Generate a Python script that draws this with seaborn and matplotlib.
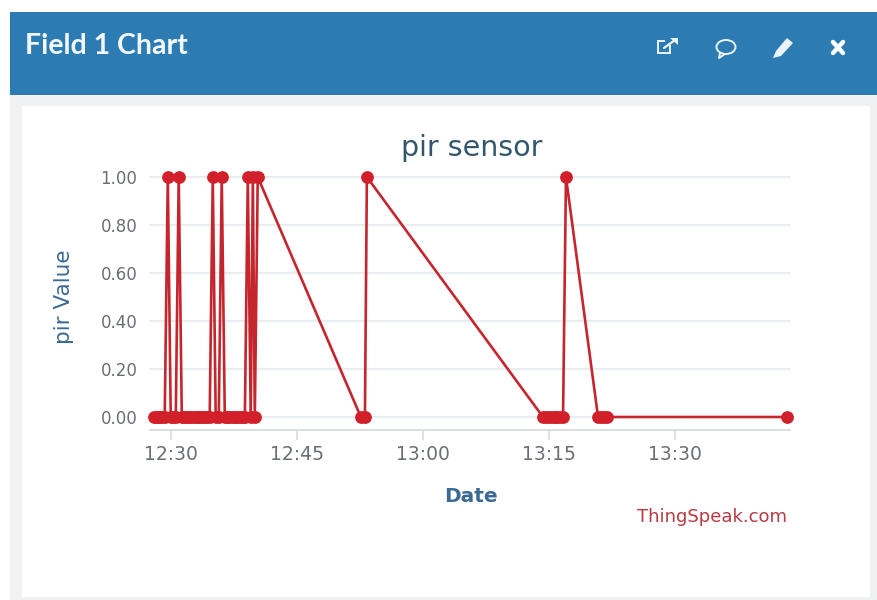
import matplotlib
matplotlib.use("Agg")
import matplotlib.pyplot as plt
import matplotlib.dates as mdates
from matplotlib.patches import Rectangle, Ellipse, Polygon
from matplotlib.lines import Line2D
import pandas as pd
import seaborn as sns

times = ["12:28:00","12:28:15","12:28:30","12:28:45","12:29:00","12:29:17","12:29:39","12:30:00","12:30:18","12:30:36",
         "12:30:57","12:31:19","12:31:35","12:31:50","12:32:05","12:32:20","12:32:35","12:32:50","12:33:05","12:33:20",
         "12:33:35","12:33:50","12:34:05","12:34:20",
         "12:34:38","12:35:00","12:35:21","12:35:43","12:36:04","12:36:26","12:36:42","12:36:58","12:37:14","12:37:30",
         "12:37:46","12:38:02","12:38:18","12:38:34","12:38:49","12:39:10","12:39:31","12:39:46","12:40:00","12:40:21",
         "12:52:37","12:53:06","12:53:20","13:14:17","13:14:40","13:15:00","13:15:20","13:15:40","13:16:00","13:16:20","13:16:40",
         "13:17:01","13:20:50","13:21:10","13:21:30","13:21:55","13:43:20"]
pir_values = [0,0,0,0,0,0,1,0,0,0,
              1,0,0,0,0,0,0,0,0,0,
              0,0,0,0,
              0,1,0,0,1,0,0,0,0,0,
              0,0,0,0,0,1,0,1,0,1,
              0,0,1,0,0,0,0,0,0,0,0,
              1,0,0,0,0,0]
y_ticks = [0.0, 0.2, 0.4, 0.6, 0.8, 1.0]
title = "pir sensor"
panel_title = "Field 1 Chart"
x_label = "Date"
y_label = "pir Value"
credit = "ThingSpeak.com"

W, H = 877, 600
sns.set_theme(style="white")
plt.rcParams["font.family"] = ["DejaVu Sans"]
fig = plt.figure(figsize=(W / 100, H / 100), dpi=100, facecolor="white")

# page chrome, in pixel coordinates
bg = fig.add_axes([0, 0, 1, 1], zorder=0)
bg.set_xlim(0, W); bg.set_ylim(H, 0); bg.axis("off")
bg.add_patch(Rectangle((10, 12), W - 10, H - 12, fc="#f0f1f2", ec="none"))
bg.add_patch(Rectangle((22, 106), 870 - 22, 597 - 106, fc="white", ec="none"))
bg.add_patch(Rectangle((10, 12), W - 10, 83, fc="#2d7bb3", ec="none"))
bg.text(25, 46, panel_title, color="#f2f8fb", fontsize=20.5, fontweight="bold",
        family="Lato", va="center", ha="left")
ic = "#eaf3f8"
# external link icon
bg.add_patch(Rectangle((658, 41), 12, 12, fc="none", ec=ic, lw=1.4))
bg.add_patch(Rectangle((665, 37), 9, 8, fc="#2d7bb3", ec="none"))
bg.add_line(Line2D([664, 675], [48, 40], color=ic, lw=1.6))
bg.add_patch(Polygon([[670, 38], [678, 38], [678, 45]], fc=ic, ec="none"))
# comment icon
bg.add_patch(Ellipse((726, 47), 19, 14, fc="none", ec=ic, lw=1.4))
bg.add_line(Line2D([720, 719, 725], [53, 58, 54], color=ic, lw=1.4))
# pencil icon
bg.add_patch(Polygon([[776, 51], [787, 38], [793, 43], [781, 56], [773, 58]], fc=ic, ec="none"))
# close icon
bg.add_line(Line2D([833, 843], [42, 53], color="white", lw=3.2))
bg.add_line(Line2D([843, 833], [42, 53], color="white", lw=3.2))

# chart
x0, x1, y_top, y_bot = 150, 790, 177, 430
ax = fig.add_axes([x0 / W, 1 - y_bot / H, (x1 - x0) / W, (y_bot - y_top) / H], zorder=2)
ax.patch.set_alpha(0)
df = pd.DataFrame({"t": pd.to_datetime(["2020-01-01 " + t for t in times]), "v": pir_values})
sns.lineplot(data=df, x="t", y="v", ax=ax, sort=False, estimator=None, errorbar=None,
             color="#c5262d", lw=1.9, marker="o", markersize=9.2,
             markerfacecolor="#d2202a", markeredgecolor="#d2202a", markeredgewidth=0,
             clip_on=False, zorder=5)
ax.set_xlim(pd.Timestamp("2020-01-01 12:27:32"), pd.Timestamp("2020-01-01 13:43:40"))
ax.set_ylim(-13 / 240, 1.0)
ax.set_yticks(y_ticks, [f"{v:.2f}" for v in y_ticks])
ax.xaxis.set_major_locator(mdates.MinuteLocator(byminute=[0, 15, 30, 45]))
ax.xaxis.set_major_formatter(mdates.DateFormatter("%H:%M"))
ax.grid(axis="y", color="#e9edef", lw=1.6, clip_on=False)
ax.set_axisbelow(True)
for s in ["top", "left", "right"]:
    ax.spines[s].set_visible(False)
ax.spines["bottom"].set_color("#d8dcdf")
ax.spines["bottom"].set_linewidth(1.3)
ax.tick_params(axis="y", length=0, pad=9, labelsize=12, labelcolor="#6a6f75")
ax.tick_params(axis="x", length=7, width=1.2, color="#d8dcdf", pad=4, labelsize=13.5, labelcolor="#6a6f75", bottom=True)
ax.set_xlabel("")
ax.set_ylabel("")

# titles placed at their pixel positions
bg2 = fig.add_axes([0, 0, 1, 1], zorder=3)
bg2.set_xlim(0, W); bg2.set_ylim(H, 0); bg2.axis("off")
bg2.text(472, 148, title, color="#33566b", fontsize=20.5, ha="center", va="center")
bg2.text(471, 497, x_label, color="#3b6a94", fontsize=14.5, ha="center", va="center", fontweight="bold")
bg2.text(64, 297, y_label, color="#3b6a94", fontsize=15.5, ha="center", va="center", rotation=90)
bg2.text(787, 517, credit, color="#b93a42", fontsize=13, ha="right", va="center")

fig.savefig("out.png", dpi=100, facecolor="white")
